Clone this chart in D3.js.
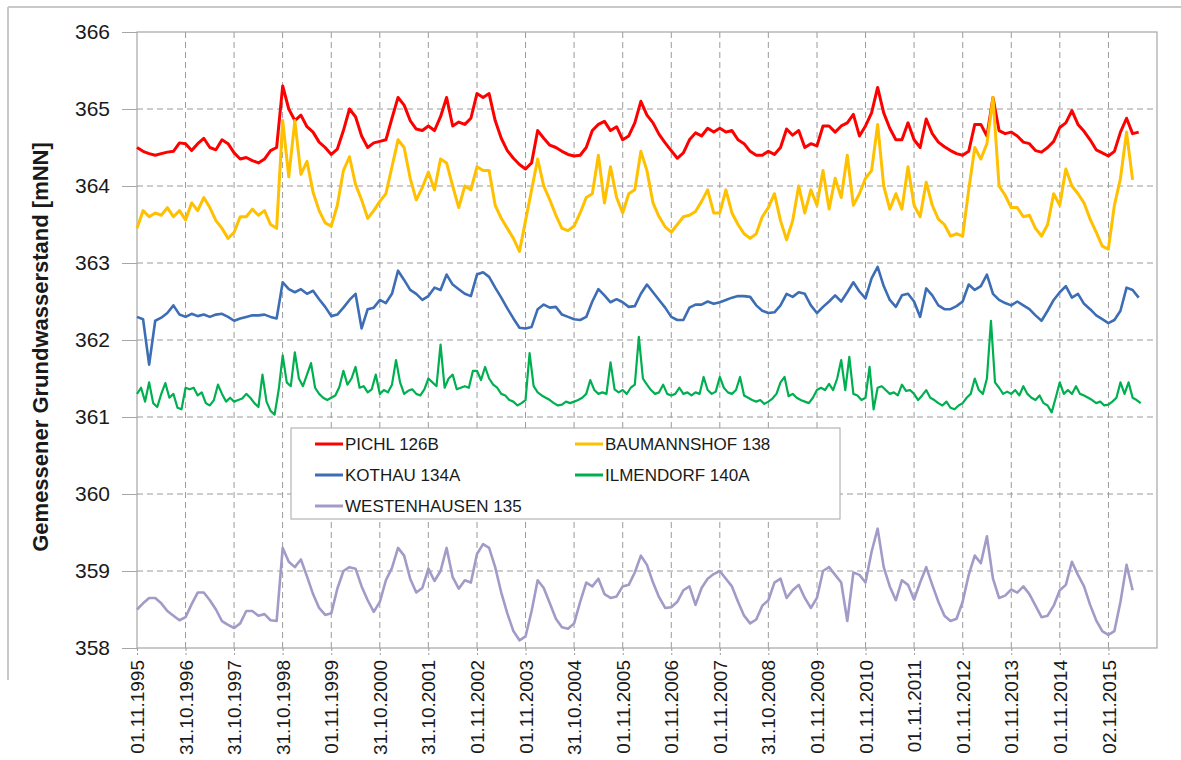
<!DOCTYPE html>
<html lang="de">
<head>
	<meta charset="utf-8">
	<title>Grundwasserstand</title>
	<script src="https://cdn.jsdelivr.net/npm/d3@7/dist/d3.min.js"></script>
	<style>
		body { margin: 0; background: #ffffff; }
		text { font-family: "Liberation Sans", Arial, sans-serif; fill: #1a1a1a; }
	</style>
</head>
<body>
<div id="chart"></div>
<script type="text/javascript">

	// Tick labels of the date axis (as printed) and of the value axis
	var xTickLabels = ["01.11.1995", "31.10.1996", "31.10.1997", "31.10.1998", "01.11.1999",
		"31.10.2000", "31.10.2001", "01.11.2002", "01.11.2003", "31.10.2004", "01.11.2005",
		"01.11.2006", "01.11.2007", "31.10.2008", "01.11.2009", "01.11.2010", "01.11.2011",
		"01.11.2012", "01.11.2013", "01.11.2014", "02.11.2015"];
	var yTicks = [358, 359, 360, 361, 362, 363, 364, 365, 366];

	var seriesNames = ["PICHL 126B", "BAUMANNSHOF 138", "KOTHAU 134A", "ILMENDORF 140A", "WESTENHAUSEN 135"];

	// Water levels [mNN], every 1.5 months from 01.11.1995
	var pichl = [
		364.5,364.45,364.42,364.4,364.42,364.44,364.45,364.56,364.55,364.46,
		364.55,364.62,364.5,364.47,364.6,364.55,364.43,364.35,364.37,364.33,
		364.3,364.35,364.46,364.5,365.3,365.0,364.85,364.92,364.77,364.7,
		364.57,364.5,364.41,364.48,364.72,365.0,364.9,364.65,364.5,364.56,
		364.58,364.6,364.88,365.15,365.05,364.85,364.74,364.72,364.78,364.72,
		364.9,365.15,364.78,364.83,364.8,364.88,365.2,365.15,365.2,364.85,
		364.62,364.46,364.36,364.28,364.22,364.3,364.72,364.62,364.53,364.5,
		364.45,364.41,364.39,364.4,364.5,364.72,364.8,364.84,364.72,364.77,
		364.6,364.65,364.82,365.1,364.92,364.82,364.67,364.56,364.46,364.36,
		364.43,364.6,364.69,364.65,364.75,364.7,364.75,364.7,364.72,364.6,
		364.55,364.45,364.4,364.4,364.45,364.41,364.5,364.74,364.66,364.72,
		364.5,364.55,364.52,364.78,364.78,364.7,364.78,364.82,364.93,364.65,
		364.78,364.95,365.28,364.95,364.75,364.6,364.6,364.82,364.6,364.5,
		364.87,364.68,364.57,364.51,364.46,364.42,364.4,364.45,364.8,364.8,
		364.65,365.15,364.72,364.68,364.7,364.65,364.57,364.55,364.46,364.44,
		364.5,364.58,364.76,364.82,364.98,364.8,364.71,364.6,364.47,364.43,
		364.39,364.45,364.7,364.88,364.68,364.7];

	var baumannshof = [
		363.45,363.68,363.6,363.65,363.62,363.72,363.6,363.68,363.56,363.78,
		363.68,363.85,363.72,363.55,363.45,363.32,363.4,363.6,363.6,363.7,
		363.62,363.68,363.5,363.45,364.85,364.12,364.85,364.15,364.32,363.92,
		363.68,363.52,363.48,363.75,364.2,364.38,364.02,363.82,363.58,363.68,
		363.8,363.9,364.25,364.6,364.5,364.1,363.82,363.98,364.18,363.95,
		364.35,364.3,364.0,363.72,364.0,363.95,364.25,364.2,364.2,363.75,
		363.58,363.45,363.32,363.15,363.55,363.95,364.35,364.0,363.82,363.62,
		363.45,363.42,363.48,363.65,363.85,363.9,364.4,363.78,364.25,363.85,
		363.65,363.9,363.95,364.45,364.2,363.78,363.6,363.47,363.4,363.5,
		363.6,363.62,363.67,363.8,363.95,363.65,363.65,363.95,363.65,363.5,
		363.38,363.32,363.38,363.6,363.72,363.9,363.55,363.3,363.55,364.0,
		363.65,363.95,363.75,364.2,363.7,364.1,363.85,364.4,363.75,363.9,
		364.1,364.2,364.8,364.0,363.7,363.9,363.7,364.25,363.75,363.6,
		364.05,363.75,363.57,363.5,363.35,363.38,363.35,363.95,364.5,364.35,
		364.55,365.15,364.0,363.88,363.72,363.72,363.6,363.62,363.45,363.35,
		363.5,363.9,363.75,364.22,364.0,363.9,363.78,363.57,363.4,363.22,
		363.18,363.75,364.1,364.7,364.08];

	var kothau = [
		362.3,362.27,361.68,362.25,362.29,362.35,362.45,362.33,362.3,362.34,
		362.31,362.33,362.3,362.33,362.34,362.3,362.25,362.28,362.3,362.32,
		362.32,362.33,362.3,362.28,362.75,362.66,362.62,362.66,362.6,362.64,
		362.53,362.43,362.31,362.33,362.42,362.52,362.6,362.15,362.4,362.42,
		362.52,362.48,362.6,362.9,362.78,362.65,362.6,362.52,362.57,362.68,
		362.65,362.85,362.72,362.66,362.6,362.57,362.85,362.88,362.82,362.68,
		362.55,362.41,362.28,362.16,362.15,362.17,362.4,362.46,362.42,362.43,
		362.33,362.3,362.27,362.26,362.3,362.5,362.66,362.58,362.49,362.53,
		362.49,362.43,362.44,362.6,362.72,362.62,362.52,362.42,362.3,362.26,
		362.26,362.42,362.46,362.46,362.5,362.47,362.49,362.52,362.55,362.57,
		362.57,362.56,362.45,362.38,362.35,362.36,362.45,362.6,362.56,362.62,
		362.6,362.45,362.35,362.43,362.5,362.58,362.5,362.62,362.75,362.63,
		362.54,362.8,362.95,362.7,362.52,362.43,362.58,362.6,362.5,362.3,
		362.67,362.58,362.45,362.4,362.4,362.44,362.5,362.72,362.65,362.7,
		362.85,362.6,362.52,362.48,362.45,362.5,362.45,362.4,362.32,362.25,
		362.38,362.52,362.62,362.7,362.55,362.6,362.47,362.4,362.32,362.27,
		362.22,362.26,362.38,362.68,362.65,362.55];

	// Ilmendorf is much noisier, read monthly from 01.11.1995
	var ilmendorf = [
		361.3,361.38,361.2,361.45,361.18,361.13,361.3,361.44,361.25,361.3,361.12,361.1,
		361.38,361.36,361.38,361.28,361.32,361.18,361.15,361.22,361.42,361.3,361.2,361.25,
		361.2,361.22,361.24,361.3,361.25,361.18,361.13,361.55,361.2,361.08,361.03,361.35,
		361.8,361.45,361.4,361.84,361.5,361.4,361.55,361.7,361.38,361.3,361.25,361.22,
		361.25,361.28,361.39,361.6,361.42,361.5,361.65,361.38,361.4,361.32,361.36,361.55,
		361.3,361.35,361.32,361.42,361.74,361.45,361.3,361.34,361.36,361.3,361.28,361.36,
		361.5,361.45,361.4,361.94,361.38,361.5,361.55,361.36,361.38,361.4,361.38,361.6,
		361.6,361.48,361.65,361.5,361.42,361.38,361.3,361.28,361.22,361.2,361.15,361.18,
		361.22,361.83,361.4,361.32,361.28,361.25,361.22,361.18,361.15,361.16,361.2,361.18,
		361.2,361.22,361.25,361.3,361.48,361.35,361.3,361.32,361.3,361.71,361.36,361.32,
		361.35,361.3,361.38,361.42,362.04,361.5,361.42,361.35,361.3,361.32,361.42,361.3,
		361.28,361.3,361.38,361.3,361.32,361.28,361.32,361.3,361.52,361.35,361.3,361.33,
		361.52,361.38,361.32,361.3,361.35,361.52,361.28,361.25,361.22,361.2,361.22,361.17,
		361.2,361.24,361.3,361.45,361.52,361.27,361.3,361.25,361.22,361.2,361.18,361.25,
		361.35,361.38,361.35,361.43,361.35,361.5,361.74,361.35,361.78,361.3,361.28,361.22,
		361.25,361.65,361.1,361.38,361.4,361.35,361.3,361.32,361.28,361.42,361.34,361.35,
		361.3,361.22,361.28,361.35,361.25,361.22,361.18,361.15,361.2,361.12,361.1,361.15,
		361.18,361.25,361.3,361.5,361.35,361.3,361.5,362.25,361.45,361.38,361.3,361.33,
		361.3,361.35,361.28,361.4,361.3,361.25,361.22,361.28,361.18,361.15,361.06,361.25,
		361.45,361.3,361.35,361.3,361.4,361.3,361.28,361.25,361.22,361.18,361.2,361.15,
		361.16,361.2,361.25,361.45,361.3,361.45,361.25,361.22,361.18];

	var westenhausen = [
		358.5,358.58,358.65,358.65,358.58,358.48,358.42,358.36,358.4,358.57,
		358.72,358.72,358.62,358.5,358.35,358.3,358.26,358.32,358.48,358.48,
		358.42,358.44,358.36,358.35,359.3,359.12,359.05,359.15,358.93,358.7,
		358.52,358.43,358.45,358.77,359.0,359.05,359.03,358.8,358.62,358.47,
		358.6,358.88,359.04,359.3,359.2,358.9,358.72,358.78,359.03,358.87,
		359.0,359.3,358.92,358.77,358.88,358.85,359.22,359.35,359.3,359.05,
		358.72,358.45,358.22,358.1,358.15,358.48,358.88,358.78,358.58,358.38,
		358.27,358.25,358.32,358.6,358.85,358.8,358.9,358.7,358.65,358.67,
		358.8,358.82,358.98,359.2,359.08,358.85,358.66,358.52,358.53,358.6,
		358.75,358.8,358.56,358.78,358.9,358.96,359.0,358.9,358.8,358.6,
		358.42,358.32,358.37,358.55,358.62,358.85,358.9,358.65,358.75,358.82,
		358.65,358.52,358.65,359.0,359.05,358.95,358.85,358.35,358.98,358.95,
		358.85,359.25,359.55,359.05,358.8,358.62,358.88,358.82,358.63,358.85,
		359.05,358.82,358.6,358.42,358.35,358.38,358.6,358.95,359.2,359.1,
		359.45,358.9,358.65,358.68,358.76,358.72,358.8,358.7,358.55,358.4,
		358.42,358.55,358.75,358.82,359.12,358.95,358.8,358.56,358.36,358.22,
		358.17,358.22,358.6,359.08,358.75];

	var parseDate = d3.timeParse("%d.%m.%Y");
	var startDate = parseDate("01.11.1995");
	var endDate = parseDate("01.11.2016");

	// build date/value pairs, stepMonths = spacing of the readings
	function toPoints(values, stepMonths) {
		return values.map(function(v, i) {
			return { date: new Date(startDate.getTime() + i * stepMonths * 30.4375 * 864e5), value: v };
		});
	}

	var series = [
		{ name: seriesNames[0], color: "#ff0000", width: 3, points: toPoints(pichl, 1.5) },
		{ name: seriesNames[1], color: "#ffc000", width: 3, points: toPoints(baumannshof, 1.5) },
		{ name: seriesNames[2], color: "#3d6db4", width: 2.6, points: toPoints(kothau, 1.5) },
		{ name: seriesNames[3], color: "#00b050", width: 2.2, points: toPoints(ilmendorf, 1) },
		{ name: seriesNames[4], color: "#a29bc8", width: 2.6, points: toPoints(westenhausen, 1.5) }
	];

	// Sizes
	var outer_width = 1181;
	var outer_height = 760;
	var margin = {top: 32, right: 24, bottom: 112, left: 137};
	var plot_width = outer_width - margin.left - margin.right;
	var plot_height = outer_height - margin.top - margin.bottom;

	var svg = d3.select("#chart")
		.append("svg")
		.attr("width", outer_width)
		.attr("height", outer_height)
		.style("background", "#ffffff");

	// thin outer frame (top and left only, as in the scan)
	svg.append("line")
		.attr("x1", 8).attr("y1", 7).attr("x2", outer_width).attr("y2", 7)
		.attr("stroke", "#c8c8c8").attr("stroke-width", 2);
	svg.append("line")
		.attr("x1", 8).attr("y1", 7).attr("x2", 8).attr("y2", 680)
		.attr("stroke", "#c8c8c8").attr("stroke-width", 2);

	var g = svg.append("g")
		.attr("transform", "translate(" + margin.left + "," + margin.top + ")");

	// Scales
	var xScale = d3.scaleTime()
		.domain([startDate, endDate])
		.range([0, plot_width]);

	var yScale = d3.scaleLinear()
		.domain([358, 366])
		.range([plot_height, 0]);

	var tickDates = xTickLabels.map(function(s) { return parseDate(s); });

	// Grid lines (dashed)
	g.append("g")
		.selectAll("line")
		.data(yTicks.slice(1, -1))
		.enter()
		.append("line")
		.attr("x1", 0).attr("x2", plot_width)
		.attr("y1", function(d) { return yScale(d); })
		.attr("y2", function(d) { return yScale(d); })
		.attr("stroke", "#9a9a9a")
		.attr("stroke-width", 1)
		.attr("stroke-dasharray", "6,4");

	g.append("g")
		.selectAll("line")
		.data(tickDates.slice(1))
		.enter()
		.append("line")
		.attr("x1", function(d) { return xScale(d); })
		.attr("x2", function(d) { return xScale(d); })
		.attr("y1", 0).attr("y2", plot_height)
		.attr("stroke", "#9a9a9a")
		.attr("stroke-width", 1)
		.attr("stroke-dasharray", "6,4");

	// Plot border
	g.append("rect")
		.attr("x", 0).attr("y", 0)
		.attr("width", plot_width).attr("height", plot_height)
		.attr("fill", "none")
		.attr("stroke", "#a6a6a6")
		.attr("stroke-width", 1.2);

	// Y axis
	var yAxis = d3.axisLeft(yScale)
		.tickValues(yTicks)
		.tickSize(15)
		.tickPadding(12)
		.tickFormat(d3.format("d"));

	var yAxisG = g.append("g").attr("class", "axis").call(yAxis);
	yAxisG.select(".domain").remove();
	yAxisG.selectAll(".tick line").attr("stroke", "#a6a6a6");
	yAxisG.selectAll(".tick text")
		.style("font-size", "21px")
		.attr("fill", "#1a1a1a");

	// X axis
	var xAxis = d3.axisBottom(xScale)
		.tickValues(tickDates)
		.tickSize(7)
		.tickFormat(function(d, i) { return xTickLabels[i]; });

	var xAxisG = g.append("g")
		.attr("class", "axis")
		.attr("transform", "translate(0," + plot_height + ")")
		.call(xAxis);
	xAxisG.select(".domain").remove();
	xAxisG.selectAll(".tick line")
		.attr("stroke", "#9a9a9a")
		.attr("stroke-dasharray", "3,2");
	xAxisG.selectAll(".tick text")
		.attr("transform", "rotate(-90)")
		.attr("text-anchor", "end")
		.attr("x", -12)
		.attr("y", 0)
		.attr("dy", "0.35em")
		.style("font-size", "19px")
		.attr("fill", "#1a1a1a");

	// Y axis title
	svg.append("text")
		.attr("transform", "translate(40,347) rotate(-90)")
		.attr("text-anchor", "middle")
		.attr("dy", "0.35em")
		.style("font-size", "22px")
		.style("font-weight", "bold")
		.text("Gemessener Grundwasserstand [mNN]");

	// Lines
	var line = d3.line()
		.x(function(d) { return xScale(d.date); })
		.y(function(d) { return yScale(d.value); });

	g.selectAll(".series")
		.data(series)
		.enter()
		.append("path")
		.attr("class", "series")
		.attr("d", function(d) { return line(d.points); })
		.attr("fill", "none")
		.attr("stroke", function(d) { return d.color; })
		.attr("stroke-width", function(d) { return d.width; })
		.attr("stroke-linejoin", "round");

	// Legend
	var legend = svg.append("g").attr("transform", "translate(291,428)");
	legend.append("rect")
		.attr("width", 549).attr("height", 91)
		.attr("fill", "#ffffff")
		.attr("stroke", "#a6a6a6")
		.attr("stroke-width", 1);

	var items = legend.selectAll(".item")
		.data(series)
		.enter()
		.append("g")
		.attr("class", "item")
		.attr("transform", function(d, i) {
			return "translate(" + (i % 2 === 0 ? 24 : 284) + "," + (16 + Math.floor(i / 2) * 31) + ")";
		});
	items.append("line")
		.attr("x1", 0).attr("x2", 28)
		.attr("stroke", function(d) { return d.color; })
		.attr("stroke-width", 3);
	items.append("text")
		.attr("x", 30)
		.attr("dy", "0.35em")
		.style("font-size", "17px")
		.text(function(d) { return d.name; });

</script>
</body>
</html>
